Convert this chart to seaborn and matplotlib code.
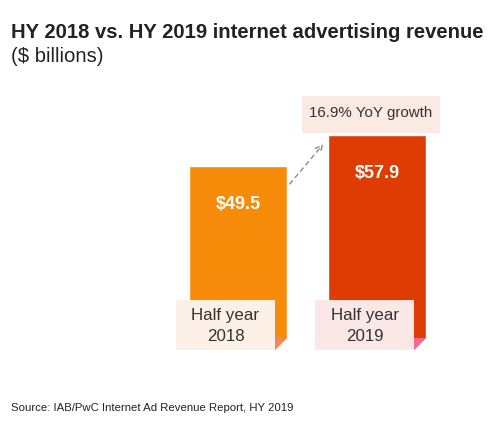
#!/usr/bin/env python3
"""HY 2018 vs HY 2019 internet advertising revenue bar chart."""
import matplotlib
matplotlib.use("Agg")
import matplotlib.pyplot as plt
import matplotlib.patches as mpatches
import pandas as pd
import seaborn as sns

periods = ["Half year\n2018", "Half year\n2019"]
revenue = [49.5, 57.9]
bar_colors = ["#f68b0a", "#de3c02"]
label_box_colors = ["#fdf0e6", "#fbe7e6"]
fold_colors = ["#ec8a5c", "#f06b8e"]
growth_text = "16.9% YoY growth"

sns.set_theme(style="white")
plt.rcParams["font.family"] = ["Liberation Sans", "DejaVu Sans"]

fig = plt.figure(figsize=(4.97, 4.43), dpi=100)
# px -> data: 1 category = 139 px, 1 unit ($bn) = 3.71 px, zero at y=350 px
ax = fig.add_axes([150 / 497, 93 / 443, 320 / 497, 270 / 443])

df = pd.DataFrame({"period": periods, "revenue": revenue})
bw = 0.705
sns.barplot(data=df, x="period", y="revenue", hue="period", palette=bar_colors,
            saturation=1, width=bw, legend=False, ax=ax, zorder=2)

ax.set_xlim(-0.633, 1.669)
ax.set_ylim(0, 72.8)
ax.axis("off")

pxx = 1 / 139   # data units per px (x)
pxy = 1 / 3.71  # data units per px (y)

# growth callout box behind the 2019 bar
ax.add_patch(mpatches.Rectangle((1 - 75 * pxx, (350 - 133) * pxy), 138 * pxx, 37 * pxy,
                                facecolor="#fbe9e4", edgecolor="none", zorder=1))
ax.text(1 - 6 * pxx, (350 - 113) * pxy, growth_text, ha="center", va="center",
        fontsize=10.9, color="#333333", zorder=5)

# dashed arrow from 2018 bar to 2019 bar
ax.annotate("", xy=(1 - 52 * pxx, (350 - 142) * pxy), xytext=(bw / 2 + 1 * pxx, (350 - 186) * pxy),
            arrowprops=dict(arrowstyle="->", linestyle=(0, (3, 3)), color="#8a8a8a", lw=1),
            zorder=5)

for i, (lab, val) in enumerate(zip(periods, revenue)):
    right = i + bw / 2
    # value label inside bar
    ax.text(i, val - 38 * pxy, f"${val}", ha="center", va="center", color="white",
            fontsize=13, fontweight="bold", zorder=5)
    # category label box
    bx0 = i - 62 * pxx
    ax.add_patch(mpatches.Rectangle((bx0, 0), 99 * pxx, 50 * pxy,
                                    facecolor=label_box_colors[i], edgecolor="none", zorder=3))
    ax.text(bx0 + 49.5 * pxx, 24 * pxy, lab, ha="center", va="center",
            fontsize=12.2, color="#333333", linespacing=1.45, zorder=5)
    # folded corner
    f0 = right - 12 * pxx
    fy = 12 * pxy
    ax.add_patch(mpatches.Polygon([(f0, 0), (right, 0), (right, fy)], closed=True,
                                  facecolor="white", edgecolor="none", zorder=4))
    ax.add_patch(mpatches.Polygon([(f0, 0), (f0, fy), (right, fy)], closed=True,
                                  facecolor=fold_colors[i], edgecolor="none", zorder=4))

fig.text(11 / 497, 1 - 32 / 443, "HY 2018 vs. HY 2019 internet advertising revenue",
         ha="left", va="center", fontsize=14.6, fontweight="bold", color="#222222")
fig.text(11 / 497, 1 - 56 / 443, "($ billions)", ha="left", va="center",
         fontsize=14.6, color="#222222")
fig.text(11 / 497, 1 - 408 / 443, "Source: IAB/PwC Internet Ad Revenue Report, HY 2019",
         ha="left", va="center", fontsize=8.2, color="#222222")

fig.savefig("out.png", dpi=100, facecolor="white")
